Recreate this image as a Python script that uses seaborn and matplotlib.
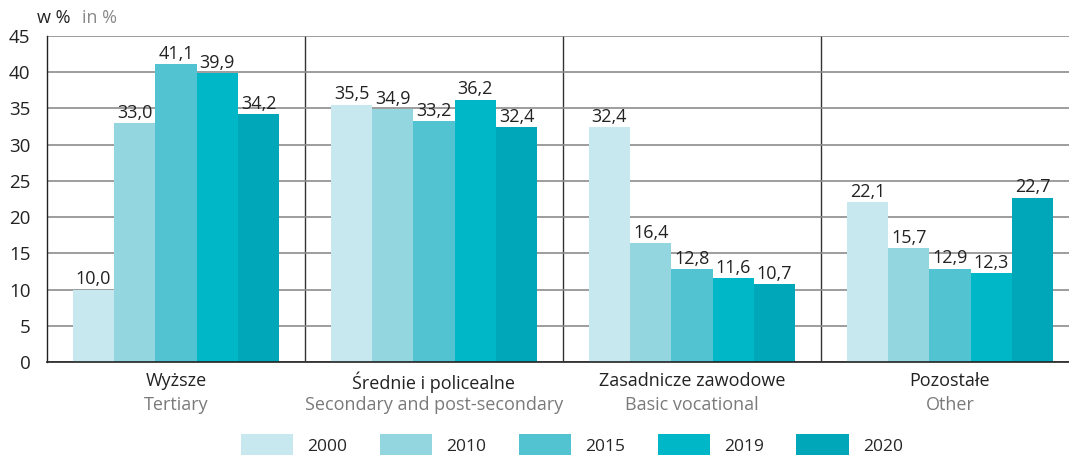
import pandas as pd
import matplotlib.pyplot as plt
import seaborn as sns
from matplotlib.patches import Patch
from matplotlib.transforms import blended_transform_factory

# Data
categories_pl = ['Wyższe', 'Średnie i policealne', 'Zasadnicze zawodowe', 'Pozostałe']
categories_en = ['Tertiary', 'Secondary and post-secondary', 'Basic vocational', 'Other']
years = ['2000', '2010', '2015', '2019', '2020']
v2000 = [10.0, 35.5, 32.4, 22.1]
v2010 = [33.0, 34.9, 16.4, 15.7]
v2015 = [41.1, 33.2, 12.8, 12.9]
v2019 = [39.9, 36.2, 11.6, 12.3]
v2020 = [34.2, 32.4, 10.7, 22.7]
colors = ['#c8e8ef', '#93d6df', '#52c3d0', '#00b7c7', '#00a7b9']

series = [v2000, v2010, v2015, v2019, v2020]
rows = []
for year, vals in zip(years, series):
    for cat, v in zip(categories_pl, vals):
        rows.append({'cat': cat, 'year': year, 'value': v})
df = pd.DataFrame(rows)

sns.set_style('white')
plt.rcParams['font.family'] = ['Open Sans', 'DejaVu Sans']

fig = plt.figure(figsize=(10.69, 4.55), dpi=100)
ax = fig.add_axes([47 / 1069, 93 / 455, 1032 / 1069, 326 / 455])

sns.barplot(data=df, x='cat', y='value', hue='year', palette=colors,
            order=categories_pl, hue_order=years, width=0.8,
            saturation=1, legend=False, linewidth=0, ax=ax)

for cont in ax.containers:
    labels = [f'{b.get_height():.1f}'.replace('.', ',') for b in cont]
    ax.bar_label(cont, labels=labels, padding=1, fontsize=13, color='#222222')

ax.set_ylim(0, 45)
ax.set_xlim(-0.5, 3.5)
ax.set_yticks(range(0, 50, 5))
ax.tick_params(axis='y', labelsize=13.5, length=0, pad=12, colors='#222222')
ax.set_xticks([])
ax.set_xlabel('')
ax.set_ylabel('')
ax.yaxis.grid(True, color='#8c8c8c', linewidth=1.2)
ax.set_axisbelow(True)
for x in [0.5, 1.5, 2.5]:
    ax.axvline(x, color='#333333', linewidth=1, zorder=0.5)

for s in ['top', 'right']:
    ax.spines[s].set_visible(False)
ax.spines['left'].set_color('#222222')
ax.spines['bottom'].set_color('#222222')
ax.spines['left'].set_linewidth(1)
ax.spines['bottom'].set_linewidth(1.2)

trans = blended_transform_factory(ax.transData, ax.transAxes)
for i, (pl, en) in enumerate(zip(categories_pl, categories_en)):
    ax.text(i, -0.03, pl, transform=trans, ha='center', va='top',
            fontsize=13, color='#222222')
    ax.text(i, -0.105, en, transform=trans, ha='center', va='top',
            fontsize=13, color='#7a7a7a')

fig.text(37 / 1069, 1 - 18 / 455, 'w %', fontsize=13, color='#222222', va='center')
fig.text(82 / 1069, 1 - 18 / 455, 'in %', fontsize=13, color='#8a8a8a', va='center')

handles = [Patch(facecolor=c, edgecolor='none') for c in colors]
fig.legend(handles, years, loc='center', bbox_to_anchor=(572 / 1069, 1 - 445 / 455),
           ncol=5, frameon=False, fontsize=12.5, handlelength=3.0, handleheight=1.5,
           handletextpad=0.85, columnspacing=1.85, borderpad=0)

fig.savefig('out.png', dpi=100)
